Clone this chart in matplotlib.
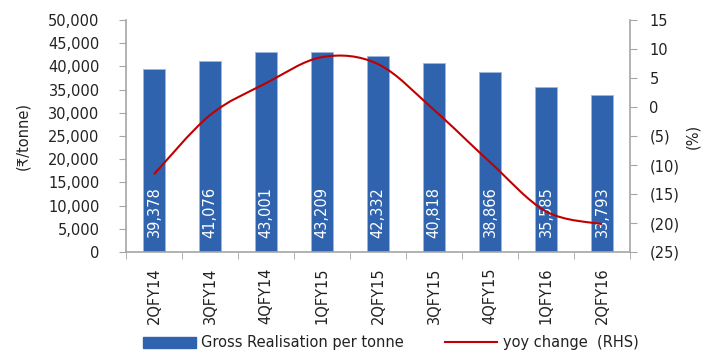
import numpy as np
import matplotlib.pyplot as plt
from matplotlib.path import Path
from matplotlib.patches import PathPatch, Patch
from matplotlib.lines import Line2D
from matplotlib.ticker import FuncFormatter, FixedLocator

quarters = ["2QFY14", "3QFY14", "4QFY14", "1QFY15", "2QFY15",
            "3QFY15", "4QFY15", "1QFY16", "2QFY16"]
realisation = [39378, 41076, 43001, 43209, 42332, 40818, 38866, 35585, 33793]
yoy_change = [-11.6, -1.4, 4.1, 8.6, 7.4, -0.5, -9.5, -18.0, -20.2]

BAR_COLOR = "#2F63AE"
LINE_COLOR = "#C00000"
SPINE = "#A6A6A6"
TEXT = "#222222"
FS = 10.5

plt.rcParams["font.family"] = ["DejaVu Sans"]

fig = plt.figure(figsize=(7.03, 3.54), dpi=100)
ax = fig.add_axes([126 / 703, 1 - 252 / 354, (630 - 126) / 703, (252 - 20) / 354])
x = np.arange(len(quarters))
ax.bar(x, realisation, width=0.39, color=BAR_COLOR, edgecolor="#9DB7DE",
       linewidth=0.6, zorder=2)
for xi, v in zip(x, realisation):
    ax.text(xi, 8600, f"{v:,}", rotation=90, ha="center", va="center",
            color="white", fontsize=10.5, zorder=4)

ax.set_xlim(-0.5, len(quarters) - 0.5)
ax.set_ylim(0, 50000)
ax.set_yticks(np.arange(0, 50001, 5000))
ax.yaxis.set_major_formatter(FuncFormatter(lambda v, p: f"{int(v):,}"))
ax.set_xticks(x)
ax.set_xticklabels(quarters, rotation=90)
ax.xaxis.set_minor_locator(FixedLocator(np.arange(-0.5, len(quarters), 1.0)))
ax.tick_params(axis="x", which="major", length=0, pad=11, labelsize=FS, colors=TEXT)
ax.tick_params(axis="x", which="minor", length=5, color=SPINE)
ax.tick_params(axis="y", length=5, color=SPINE, labelsize=FS, labelcolor=TEXT, pad=14)
ax.set_ylabel("(\u20b9/tonne)", fontsize=FS, color=TEXT, labelpad=13)
for s in ["top", "right"]:
    ax.spines[s].set_visible(False)
for s in ["left", "bottom"]:
    ax.spines[s].set_color(SPINE)
    ax.spines[s].set_linewidth(1.2)

ax2 = ax.twinx()
ax2.set_ylim(-25, 15)
ax2.set_yticks(np.arange(-25, 16, 5))
ax2.yaxis.set_major_formatter(FuncFormatter(
    lambda v, p: f"({abs(int(v))})" if v < 0 else f"{int(v)}"))
ax2.tick_params(axis="y", length=5, color=SPINE, labelsize=FS, labelcolor=TEXT, pad=9)
ax2.set_ylabel("(%)", fontsize=FS, color=TEXT, labelpad=4)
for s in ["top", "left", "bottom"]:
    ax2.spines[s].set_visible(False)
ax2.spines["right"].set_color(SPINE)
ax2.spines["right"].set_linewidth(1.2)

# smoothed line (Bezier through the data points, Catmull-Rom control points)
pts = np.column_stack([x, yoy_change]).astype(float)
verts = [tuple(pts[0])]
codes = [Path.MOVETO]
n = len(pts)
for i in range(n - 1):
    p0 = pts[max(i - 1, 0)]
    p1 = pts[i]
    p2 = pts[i + 1]
    p3 = pts[min(i + 2, n - 1)]
    c1 = p1 + (p2 - p0) / 6
    c2 = p2 - (p3 - p1) / 6
    verts += [tuple(c1), tuple(c2), tuple(p2)]
    codes += [Path.CURVE4] * 3
ax2.add_patch(PathPatch(Path(verts, codes), facecolor="none",
                        edgecolor=LINE_COLOR, linewidth=1.5, zorder=3))

handles = [Patch(facecolor=BAR_COLOR, edgecolor=BAR_COLOR),
           Line2D([], [], color=LINE_COLOR, linewidth=1.5)]
fig.legend(handles, ["Gross Realisation per tonne", "yoy change  (RHS)"],
           loc="center left", bbox_to_anchor=(143 / 703, 1 - 343 / 354), ncol=2,
           frameon=False, fontsize=FS, handlelength=3.6, handleheight=0.7,
           handletextpad=0.4, columnspacing=2.8, labelcolor=TEXT,
           borderaxespad=0, borderpad=0)

fig.savefig("out.png", dpi=100, facecolor="white")
